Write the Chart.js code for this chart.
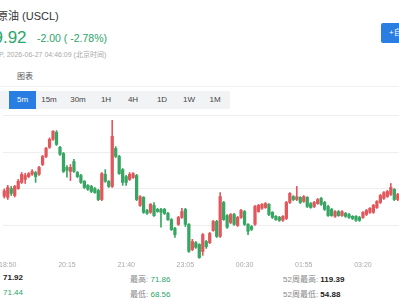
<!DOCTYPE html>
<html>
<head>
<meta charset="utf-8">
<script src="https://cdn.jsdelivr.net/npm/chart.js@4.4.0/dist/chart.umd.min.js"></script>
<style>
  html, body { margin: 0; padding: 0; background: #fff; }
  body { width: 399px; height: 300px; position: relative; overflow: hidden;
         font-family: "Liberation Sans", Arial, "Noto Sans CJK SC", sans-serif; }
  .abs { position: absolute; white-space: nowrap; }
  .green { color: #2ba56a; }
  .tabs { position: absolute; left: 0; top: 91px; width: 230px; height: 18px; background: #f2f3f5; }
  .tab { position: absolute; top: 0; height: 18px; line-height: 18px; font-size: 8px; color: #444; transform: translateX(-50%); }
  .tab.on { background: #2a7de1; color: #fff; transform: none; text-align: center; }
  .lbl { color: #888; }
  .row { font-size: 8px; }
  #chart { position: absolute; left: -3px; top: 105px; }
</style>
</head>
<body>
<div class="abs" style="left:-3px;top:7px;font-size:11px;color:#333;">原油 (USCL)</div>
<div class="abs green" style="left:-16px;top:28px;font-size:17px;">69.92</div>
<div class="abs green" style="left:37px;top:32px;font-size:10.5px;">-2.00 ( -2.78%)</div>
<div class="abs" style="left:-1px;top:49px;font-size:7px;color:#aaa;">P, 2026-06-27 04:46:09 (北京时间)</div>
<div class="abs" style="left:17px;top:70px;font-size:8px;color:#555;">图表</div>
<div class="abs" style="left:0;top:86px;width:399px;height:1px;background:#f1f1f1;"></div>
<div class="abs" style="left:381px;top:23px;width:40px;height:20px;line-height:20px;background:#2a7de1;color:#fff;font-size:8px;border-radius:2px;padding-left:8px;">+自选</div>

<div class="tabs">
  <div class="tab on" style="left:9px;width:27px;">5m</div>
  <div class="tab" style="left:49px;">15m</div>
  <div class="tab" style="left:78px;">30m</div>
  <div class="tab" style="left:106px;">1H</div>
  <div class="tab" style="left:133px;">4H</div>
  <div class="tab" style="left:162px;">1D</div>
  <div class="tab" style="left:189px;">1W</div>
  <div class="tab" style="left:215px;">1M</div>
</div>

<canvas id="chart" width="406" height="165"></canvas>

<div class="abs row" style="left:3px;top:273px;font-weight:bold;color:#222;">71.92</div>
<div class="abs row" style="left:130px;top:273px;"><span class="lbl">最高:</span> <span class="green">71.86</span></div>
<div class="abs row" style="left:283px;top:273px;"><span class="lbl">52周最高:</span> <b style="color:#222;">119.39</b></div>
<div class="abs row green" style="left:3px;top:288px;">71.44</div>
<div class="abs row" style="left:130px;top:288px;"><span class="lbl">最低:</span> <span class="green">68.56</span></div>
<div class="abs row" style="left:283px;top:288px;"><span class="lbl">52周最低:</span> <b style="color:#222;">54.88</b></div>

<script>
// 5 minute candles, first one at 18:45
const startMinute = 18 * 60 + 45;
const candleCount = 115;
const times = [];
for (let i = 0; i < candleCount; i++) {
  const m = (startMinute + i * 5) % (24 * 60);
  times.push(String(Math.floor(m / 60)).padStart(2, '0') + ':' + String(m % 60).padStart(2, '0'));
}
const tickLabels = ['18:50', '20:15', '21:40', '23:05', '00:30', '01:55', '03:20'];
const gridValues = [69, 70, 71, 72];

const open = [
  69.80, 69.77, 70.01, 69.82, 70.01, 70.18, 70.26, 70.34, 70.40, 70.45,
  70.40, 70.67, 70.89, 71.14, 71.36, 71.55, 71.14, 70.97, 70.59, 70.48,
  70.75, 70.45, 70.37, 70.21, 70.10, 70.07, 70.01, 69.96, 69.71, 70.40,
  70.21, 70.07, 71.11, 70.89, 70.53, 70.34, 70.26, 70.31, 70.37, 69.55,
  69.77, 69.41, 69.36, 69.55, 69.44, 69.44, 69.44, 69.33, 69.16, 68.92,
  69.03, 69.22, 69.44, 69.03, 68.34, 68.53, 68.48, 68.29, 68.56, 68.53,
  68.86, 69.11, 68.70, 69.63, 69.27, 69.08, 69.30, 69.00, 69.22, 69.38,
  69.03, 68.97, 69.03, 69.38, 69.47, 69.49, 69.58, 69.36, 69.25, 69.22,
  69.14, 69.19, 69.63, 69.79, 69.71, 69.77, 69.66, 69.77, 69.60, 69.52,
  69.60, 69.74, 69.63, 69.52, 69.44, 69.25, 69.38, 69.27, 69.33, 69.30,
  69.25, 69.25, 69.22, 69.22, 69.30, 69.36, 69.36, 69.49, 69.63, 69.74,
  69.79, 69.85, 69.99, 69.71, 69.82
];
const high = [
  70.00, 70.10, 70.07, 70.10, 70.26, 70.45, 70.43, 70.45, 70.53, 70.48,
  70.62, 70.92, 71.14, 71.40, 71.60, 71.60, 71.17, 71.00, 70.64, 70.67,
  70.81, 70.48, 70.40, 70.23, 70.12, 70.10, 70.04, 69.99, 70.45, 70.53,
  70.23, 71.88, 71.16, 70.92, 70.56, 70.37, 70.45, 70.45, 70.40, 69.82,
  69.79, 69.44, 69.60, 69.63, 69.47, 69.47, 69.47, 69.36, 69.19, 68.95,
  69.25, 69.47, 69.47, 69.05, 68.62, 68.56, 68.50, 68.78, 68.59, 68.81,
  69.14, 69.14, 69.90, 69.66, 69.30, 69.33, 69.33, 69.25, 69.44, 69.41,
  69.05, 69.00, 69.55, 69.58, 69.60, 69.63, 69.60, 69.38, 69.27, 69.25,
  69.27, 69.66, 69.90, 69.82, 70.07, 69.79, 69.82, 69.79, 69.63, 69.66,
  69.74, 69.77, 69.66, 69.55, 69.47, 69.41, 69.41, 69.41, 69.36, 69.33,
  69.27, 69.27, 69.25, 69.38, 69.44, 69.49, 69.58, 69.68, 69.85, 69.93,
  69.96, 70.15, 70.01, 69.88, 69.85
];
const low = [
  69.75, 69.71, 69.82, 69.78, 69.99, 70.15, 70.15, 70.31, 70.37, 70.18,
  70.37, 70.64, 70.86, 71.11, 71.33, 71.19, 70.92, 70.45, 70.32, 70.23,
  70.45, 70.31, 70.15, 70.01, 69.96, 69.90, 69.88, 69.68, 69.68, 70.18,
  70.04, 70.04, 70.86, 70.40, 70.10, 70.10, 70.23, 70.29, 69.68, 69.52,
  69.33, 69.30, 69.33, 69.25, 69.36, 68.95, 69.30, 69.14, 68.86, 68.67,
  69.00, 69.19, 68.97, 68.26, 68.31, 68.37, 68.10, 68.18, 68.37, 68.50,
  68.84, 68.67, 68.67, 69.14, 68.92, 69.05, 69.00, 68.97, 69.19, 69.00,
  68.75, 68.86, 69.00, 69.36, 69.44, 69.47, 69.27, 69.19, 69.14, 69.11,
  69.11, 69.16, 69.60, 69.68, 69.68, 69.60, 69.63, 69.49, 69.47, 69.49,
  69.58, 69.55, 69.41, 69.25, 69.25, 69.22, 69.25, 69.25, 69.22, 69.19,
  69.16, 69.11, 69.11, 69.19, 69.27, 69.33, 69.33, 69.47, 69.60, 69.71,
  69.77, 69.82, 69.68, 69.68, 69.60
];
const close = [
  69.95, 70.04, 69.88, 70.07, 70.21, 70.40, 70.37, 70.42, 70.48, 70.34,
  70.59, 70.89, 71.11, 71.36, 71.58, 71.22, 70.95, 70.48, 70.51, 70.59,
  70.48, 70.34, 70.18, 70.04, 69.99, 69.93, 69.90, 69.71, 70.42, 70.21,
  70.07, 71.44, 70.89, 70.42, 70.18, 70.18, 70.40, 70.42, 69.71, 69.79,
  69.36, 69.33, 69.58, 69.27, 69.38, 69.36, 69.33, 69.16, 68.89, 68.75,
  69.22, 69.38, 69.03, 68.29, 68.56, 68.40, 68.12, 68.75, 68.42, 68.78,
  69.11, 68.70, 69.79, 69.16, 68.95, 69.30, 69.03, 69.22, 69.41, 69.03,
  68.84, 68.89, 69.52, 69.55, 69.58, 69.60, 69.30, 69.22, 69.16, 69.14,
  69.25, 69.63, 69.88, 69.71, 69.79, 69.63, 69.79, 69.52, 69.49, 69.63,
  69.71, 69.58, 69.44, 69.27, 69.27, 69.38, 69.27, 69.38, 69.25, 69.22,
  69.19, 69.14, 69.14, 69.36, 69.41, 69.47, 69.55, 69.66, 69.82, 69.90,
  69.93, 70.04, 69.71, 69.85, 69.63
];

const upColor = '#e2575c';
const downColor = '#37a662';
const colors = open.map((o, i) => close[i] >= o ? upColor : downColor);

new Chart(document.getElementById('chart'), {
  type: 'bar',
  data: {
    labels: times,
    datasets: [{
      // wicks
      data: times.map((t, i) => [low[i], high[i]]),
      backgroundColor: colors,
      barThickness: 1,
      grouped: false,
      clip: false,
      order: 2,
    }, {
      // bodies
      data: times.map((t, i) => [open[i], close[i]]),
      backgroundColor: colors,
      barThickness: 2.6,
      minBarLength: 1.5,
      grouped: false,
      clip: false,
      order: 1,
    }],
  },
  options: {
    responsive: false,
    animation: false,
    devicePixelRatio: 1,
    layout: { padding: 0 },
    plugins: {
      legend: { display: false },
      tooltip: { enabled: false },
    },
    scales: {
      x: {
        offset: true,
        grid: { display: false },
        border: { display: false },
        ticks: {
          autoSkip: false,
          maxRotation: 0,
          minRotation: 0,
          padding: 2,
          color: '#aaa',
          font: { size: 7, family: 'Liberation Sans' },
          callback: (v, i) => tickLabels.includes(times[i]) ? times[i] : null,
        },
        afterFit: s => { s.height = 19; },
      },
      y: {
        min: 68.3,
        max: 72.3,
        ticks: { display: false },
        grid: { color: '#eeeeee', drawTicks: false },
        border: { display: false },
        afterBuildTicks: s => { s.ticks = gridValues.map(v => ({ value: v })); },
        afterFit: s => { s.width = 0; },
      },
    },
  },
});
</script>
</body>
</html>
